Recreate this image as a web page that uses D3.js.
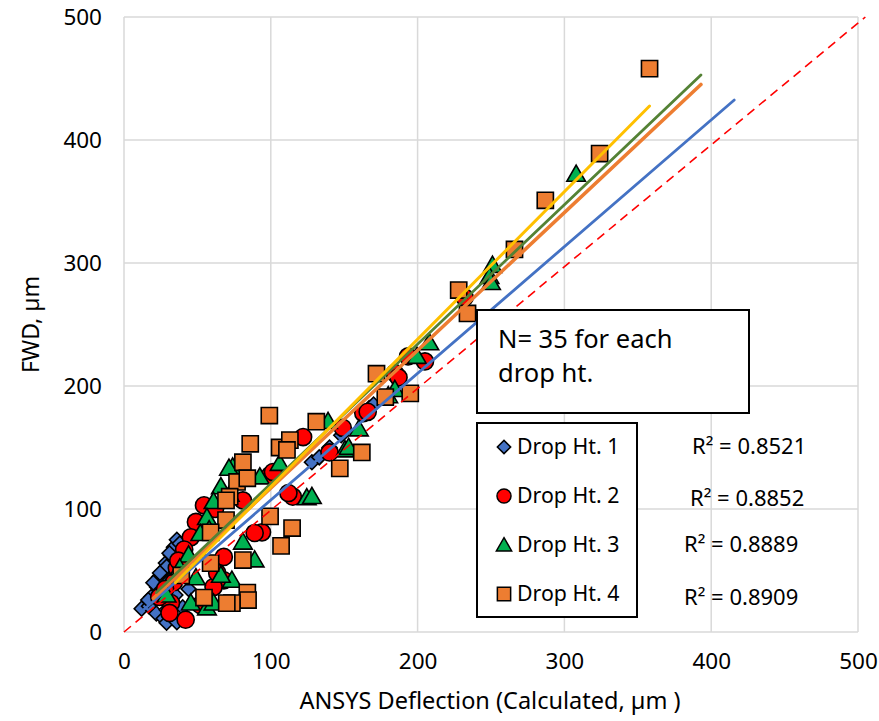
<!DOCTYPE html>
<html>
<head>
<meta charset="utf-8">
<script src="https://cdn.jsdelivr.net/npm/d3@7"></script>
<style>
  body { margin: 0; background: #fff; }
  text { font-family: "Noto Sans", "Open Sans", sans-serif; fill: #000; }
</style>
</head>
<body>
<svg id="chart" width="879" height="721"></svg>
<script>
// Drop Ht. 1..4 : [ANSYS calculated, FWD measured] in µm
var drop1 = [[12,19],[17,21],[22,15],[27,11],[34,11],[29,7.5],[36,8],[29,18],[18.5,28.5],[16.5,26],
  [22.5,36.5],[25,34],[24,45],[26,49],[31,42],[28.5,56],[32,53],[32,62.5],[34,69],[36,75],
  [31,64],[29,53],[24.5,48],[20,40],[38,72],[128,138],[133,142],[167,182],[170,185],[148,160],
  [140,150],[40,60],[35,30],[40,20],[44,35]];
var drop2 = [[205,220],[193.5,224],[184.5,210.5],[232,272],[163,178],[166,179],[149,166],[187,207],[122,158.5],[99.5,127.5],
  [115,110],[112,113],[94,81],[89,80.5],[81,107],[140,146],[54.5,103],[49,89.5],[45.5,77],[41,67],
  [36,52],[34,40.5],[32,23.5],[42,10],[24,28.5],[68,42],[61,36.5],[68,61],[31,15.5],[52,22],
  [63.5,48],[101.5,130],[62,100],[37,58],[28,35]];
var drop3 = [[308,372],[251,298],[249,289],[250,284],[208,235],[199.5,224],[184.5,197],[150.5,148],[153,150],[139,171],
  [106,137],[124.5,109],[128,110],[92.5,126],[74,134],[81,73],[89,58.5],[73.5,42],[71.5,133],[66,118],
  [61,106],[56.5,93],[66,46],[44,62.5],[49,44],[29,30],[45.5,23.5],[56.5,19.5],[61,23.5],[58,83],
  [52,80],[38,52],[72,112],[180,192],[160,165]];
var drop4 = [[358,458],[324,389],[287,351],[266,311],[228,278],[234,259],[172,210],[178,191],[195,194],[162,146],
  [147,133],[131,171],[99,176],[86,153],[106,150],[113,156],[111,148],[81,138],[77,122],[84,125],
  [72,110],[99.5,94],[114.5,84.5],[107,70],[81,58.5],[84,32],[84.5,26],[73.5,23.5],[69.5,107],[69.5,91],
  [59,81],[59,56],[39,46],[54.5,28],[70,23.5]];

var seriesNames = ["Drop Ht. 1", "Drop Ht. 2", "Drop Ht. 3", "Drop Ht. 4"];
var rSquared = ["R² = 0.8521", "R² = 0.8852", "R² = 0.8889", "R² = 0.8909"];
// linear trendlines: [x start, x end, slope, intercept]
var trends = [[12, 415.7, 1.03, 4.3], [20, 393, 1.12, 5], [22, 393, 1.134, 7.2], [35, 358, 1.2, -2]];
var equality = [[0, 0], [505, 500]];
var ticks = [0, 100, 200, 300, 400, 500];

var svg = d3.select("#chart"),
    margin = {top: 17, right: 21, bottom: 89, left: 124},
    width = +svg.attr("width") - margin.left - margin.right,
    height = +svg.attr("height") - margin.top - margin.bottom;

var x = d3.scaleLinear().domain([0, 500]).range([margin.left, margin.left + width]);
var y = d3.scaleLinear().domain([0, 500]).range([margin.top + height, margin.top]);

var fills = ["#4472C4", "#FF0000", "#00B050", "#ED7D31"];
var trendColors = ["#4472C4", "#ED7D31", "#548235", "#FFC000"];
var trendWidths = [2.8, 3.6, 2.8, 3];

function shape(i, s) {
  // s = scale factor for legend
  if (i === 0) return d3.symbol().type(d3.symbolSquare).size(110 * s * s)();
  if (i === 1) return d3.symbol().type(d3.symbolCircle).size(230 * s * s)();
  if (i === 2) return d3.symbol().type(d3.symbolTriangle).size(150 * s * s)();
  return d3.symbol().type(d3.symbolSquare).size(262 * s * s)();
}
function rot(i) { return i === 0 ? " rotate(45)" : (i === 2 ? " translate(0,1.5)" : ""); }

// grid
var grid = svg.append("g").attr("stroke", "#d9d9d9").attr("stroke-width", 1.5);
grid.selectAll(".gx").data(ticks).enter().append("line")
  .attr("x1", function(d) { return x(d); }).attr("x2", function(d) { return x(d); })
  .attr("y1", y(0)).attr("y2", y(500));
grid.selectAll(".gy").data(ticks).enter().append("line")
  .attr("y1", function(d) { return y(d); }).attr("y2", function(d) { return y(d); })
  .attr("x1", x(0)).attr("x2", x(500));

// axes
var xAxis = svg.append("g")
  .attr("transform", "translate(0," + y(0) + ")")
  .call(d3.axisBottom(x).tickValues(ticks).tickSize(0).tickPadding(21));
var yAxis = svg.append("g")
  .attr("transform", "translate(" + x(0) + ",0)")
  .call(d3.axisLeft(y).tickValues(ticks).tickSize(0).tickPadding(22));
[xAxis, yAxis].forEach(function(a) {
  a.select(".domain").remove();
  a.selectAll("text").attr("font-size", 22.5).attr("font-family", "Noto Sans").attr("fill", "#000");
});

// markers
var all = [drop1, drop2, drop3, drop4];
all.forEach(function(data, i) {
  svg.append("g").selectAll("path").data(data).enter().append("path")
    .attr("d", shape(i, 1))
    .attr("transform", function(d) { return "translate(" + x(d[0]) + "," + y(d[1]) + ")" + rot(i); })
    .attr("fill", fills[i])
    .attr("stroke", "#000")
    .attr("stroke-width", 1.6);
});

// 1:1 line
svg.append("line")
  .attr("x1", x(equality[0][0])).attr("y1", y(equality[0][1]))
  .attr("x2", x(equality[1][0])).attr("y2", y(equality[1][1]))
  .attr("stroke", "#FF0000").attr("stroke-width", 1.6).attr("stroke-dasharray", "9,6");

// trendlines
trends.forEach(function(t, i) {
  svg.append("line")
    .attr("x1", x(t[0])).attr("y1", y(t[2] * t[0] + t[3]))
    .attr("x2", x(t[1])).attr("y2", y(t[2] * t[1] + t[3]))
    .attr("stroke", trendColors[i]).attr("stroke-width", trendWidths[i])
    .attr("stroke-linecap", "round");
});

// note box
svg.append("rect").attr("x", 477).attr("y", 310).attr("width", 272).attr("height", 103)
  .attr("fill", "#fff").attr("stroke", "#000").attr("stroke-width", 2);
svg.append("text").attr("x", 498).attr("y", 348).attr("font-size", 25.5).text("N= 35 for each");
svg.append("text").attr("x", 498).attr("y", 382).attr("font-size", 25.5).text("drop ht.");

// legend
svg.append("rect").attr("x", 477).attr("y", 423).attr("width", 160).attr("height", 194)
  .attr("fill", "#fff").attr("stroke", "#000").attr("stroke-width", 2);
var legend = svg.append("g").selectAll("g").data(seriesNames).enter().append("g")
  .attr("transform", function(d, i) { return "translate(504," + (447 + i * 49) + ")"; });
legend.append("path")
  .attr("d", function(d, i) { return shape(i, i === 0 ? 0.9 : 0.82); })
  .attr("transform", function(d, i) { return "translate(0,0)" + rot(i); })
  .attr("fill", function(d, i) { return fills[i]; })
  .attr("stroke", "#000").attr("stroke-width", 1.5);
legend.append("text").attr("x", 13).attr("dy", "0.35em").attr("font-size", 21.3)
  .text(function(d) { return d; });

// R² labels
var rPos = [[692, 454], [690, 506], [684, 552], [684, 605]];
svg.append("g").selectAll("text").data(rSquared).enter().append("text")
  .attr("x", function(d, i) { return rPos[i][0]; })
  .attr("y", function(d, i) { return rPos[i][1]; })
  .attr("font-size", 22)
  .text(function(d) { return d; });

// axis titles
svg.append("text").attr("x", 490).attr("y", 709)
  .attr("text-anchor", "middle").attr("font-size", 23.5)
  .text("ANSYS Deflection (Calculated, µm )");
svg.append("text")
  .attr("transform", "translate(39," + y(250) + ") rotate(-90)")
  .attr("text-anchor", "middle").attr("font-size", 23)
  .text("FWD, µm");
</script>
</body>
</html>
